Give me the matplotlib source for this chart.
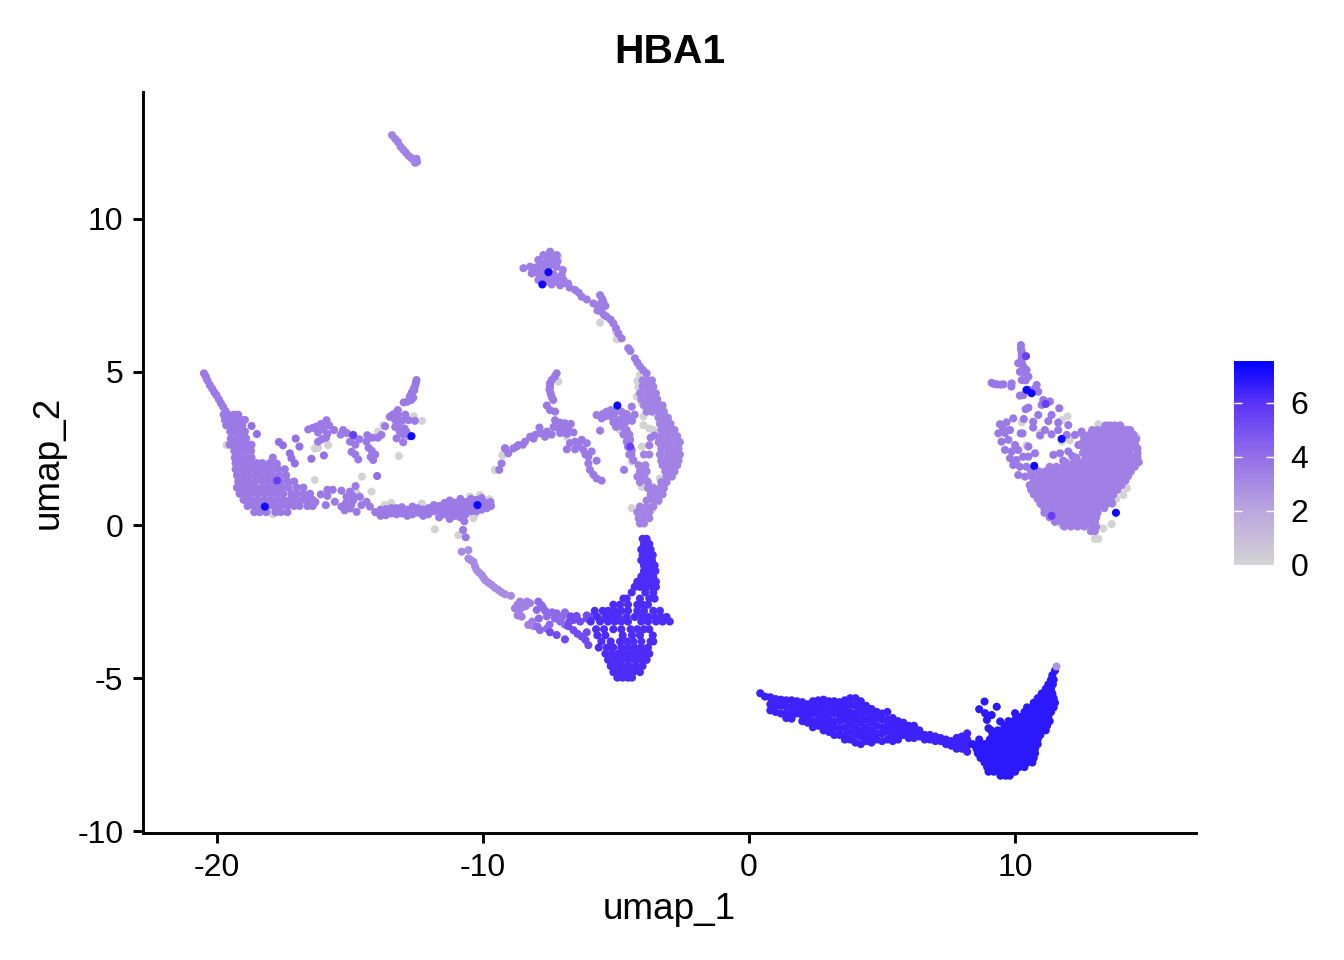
import matplotlib
matplotlib.use("Agg")
import matplotlib.pyplot as plt
from matplotlib.cm import ScalarMappable
from matplotlib.colors import LinearSegmentedColormap, Normalize

plt.rcParams['font.family'] = ['Liberation Sans', 'DejaVu Sans']
plt.rcParams['axes.unicode_minus'] = False

# points, umap_1 / umap_2
top_streak = [(-13.42,12.72),(-13.3,12.6),(-13.2,12.5),(-13.1,12.35),(-13.0,12.25),(-12.9,12.15),(-12.8,12.05),(-12.7,11.98),(-12.6,11.9),(-12.5,11.95),(-12.55,11.82),(-12.48,11.85)]

left_spike = [(-20.49,4.95),(-20.42,4.85),(-20.36,4.72),(-20.27,4.57),(-20.18,4.45),(-20.1,4.33),(-20.02,4.24),(-19.93,4.1),(-19.85,3.97),(-19.77,3.86),(-19.68,3.72)]
left_rows = [
    (3.6,[-19.75,-19.55,-19.35,-19.2]),
    (3.43,[-19.7,-19.5,-19.3,-19.1,-18.95]),
    (3.25,[-19.65,-19.42,-19.25,-19.05]),
    (3.05,[-19.5,-19.3,-19.12,-18.95]),
    (2.82,[-19.48,-19.28,-19.1,-18.9]),
    (2.62,[-19.52,-19.3,-19.08,-18.88,-18.7]),
    (2.42,[-19.35,-19.15,-18.95,-18.72]),
    (2.2,[-19.33,-19.13,-18.9,-18.7]),
    (2.02,[-19.3,-19.1,-18.9,-18.68,-18.5,-18.3,-18.02]),
    (1.82,[-19.3,-19.05,-18.85,-18.6,-18.4,-18.15,-17.95,-17.7,-17.45]),
    (1.62,[-19.25,-19.0,-18.8,-18.55,-18.35,-18.1,-17.9,-17.65,-17.4]),
    (1.42,[-19.2,-19.0,-18.75,-18.55,-18.3,-18.1,-17.85,-17.6,-17.35,-17.1]),
    (1.22,[-19.25,-19.0,-18.8,-18.55,-18.3,-18.05,-17.8,-17.55,-17.3,-17.0,-16.75]),
    (1.02,[-19.15,-18.9,-18.7,-18.45,-18.2,-17.95,-17.7,-17.5,-17.2,-17.0,-16.75,-16.5]),
    (0.82,[-19.0,-18.75,-18.5,-18.25,-18.0,-17.75,-17.5,-17.25,-17.0,-16.8,-16.6,-16.4]),
    (0.62,[-18.85,-18.6,-18.35,-18.1,-17.85,-17.6,-17.35,-17.1,-16.9,-16.6,-16.4]),
    (0.42,[-18.6,-18.4,-18.15,-17.8,-17.6,-17.35]),
]
left_tail = [(-16.3,.75),(-16.1,1.0),(-15.85,1.15),(-15.65,1.15),(-15.85,.95),(-15.91,.65),(-15.57,.76),(-15.32,1.12),(-15.0,1.09),(-14.79,1.27),(-15.13,.92),(-14.88,.8),(-14.63,.92),(-14.38,.76),(-15.32,.6),(-15.0,.54),(-14.75,.43),(-14.57,.65),(-14.25,.6),
    (-15.15,.72),(-14.95,.66),(-15.2,.48),(-14.9,.95),
    (-14.05,.42),(-13.85,.3),(-13.85,.5),(-13.65,.32),(-13.65,.52),(-13.45,.38),(-13.45,.55),(-13.25,.35),(-13.25,.55),(-13.05,.38),(-13.05,.58),(-12.85,.3),(-12.85,.5),(-12.65,.35),(-12.65,.6),(-12.45,.4),(-12.45,.55),(-12.25,.3),(-12.25,.5),(-12.05,.35),(-12.05,.55),(-11.85,.45),(-11.85,.65),(-11.65,.25),(-11.65,.45),(-11.65,.62),(-11.45,.35),(-11.45,.55),(-11.45,.72),(-11.25,.2),(-11.25,.4),(-11.25,.6),(-11.25,.8),(-11.05,.3),(-11.05,.5),(-11.05,.72),(-10.85,.25),(-10.85,.45),(-10.85,.65),(-10.85,.85),(-10.65,.35),(-10.65,.55),(-10.65,.75),(-10.45,.45),(-10.45,.65),(-10.45,.85),(-10.25,.45),(-10.25,.82),(-10.05,.5),(-10.05,.7),(-10.05,.88),(-9.85,.55),(-9.85,.72),(-9.7,.62),(-9.72,.75),
    (-10.75,-.16),(-10.65,-.4),(-10.7,.12)]
left_loose = [(-18.7,3.23),(-18.5,2.97),(-17.67,2.71),(-17.52,2.6),(-17.04,2.82),(-16.9,2.56),(-17.26,2.34),(-17.2,2.18),(-17.07,2.01),(-16.45,2.16),(-15.98,2.27),(-13.98,1.6)]
left_branch = [(-16.57,3.12),(-16.4,3.17),(-16.26,3.21),(-16.08,3.3),(-15.88,3.42),(-15.78,3.25),(-16.0,3.12),(-16.2,3.02),(-15.6,3.1),(-15.85,2.98),(-16.2,2.72),(-16.05,2.8),(-15.9,2.85),(-15.26,3.1),(-15.12,3.0),(-15.35,2.95),(-14.88,2.88),(-14.65,2.8),(-15.0,2.72),(-14.8,2.62),(-14.94,2.39),(-14.8,2.3),(-14.69,2.14),(-14.35,2.93),(-14.15,2.85),(-14.38,2.72),(-14.3,2.52),(-14.18,2.42),(-14.13,2.12),(-14.22,2.22),(-14.05,2.3),(-13.95,2.85),(-13.82,2.94),(-13.68,3.22),(-13.5,3.53),(-13.35,3.62),(-13.2,3.28),(-13.05,3.4),(-13.3,3.2),(-13.13,3.05),(-12.95,3.15),(-12.88,3.05),(-12.78,2.9),(-13.25,2.83),(-13.0,2.95),(-13.0,2.7),(-13.3,3.42),(-13.42,3.58),(-12.92,3.6),(-12.8,3.42),(-12.56,3.4),
    (-13.2,3.75),(-13.2,3.6),(-12.98,4.0),(-12.85,4.02),(-12.7,4.08),(-12.62,4.15),(-12.75,4.2),(-12.68,4.32),(-12.6,4.45),(-12.55,4.55),(-12.52,4.65),(-12.5,4.73),(-12.58,4.4),(-17.75,2.0),(-17.9,2.2)]

# top blob and the long arc running down to the middle
arc_top = [(-7.48,8.92),(-7.73,8.81),(-7.23,8.81),(-7.5,8.75),(-7.92,8.65),(-7.6,8.62),(-7.36,8.65),(-8.48,8.38),(-8.23,8.43),(-8.05,8.4),(-7.8,8.43),(-7.5,8.45),(-7.23,8.43),(-7.0,8.32),(-8.17,8.21),(-7.92,8.21),(-7.67,8.21),(-7.36,8.2),(-7.04,8.16),(-7.92,8.0),(-7.6,7.95),(-7.29,7.95),(-6.98,8.0),(-6.8,7.88),(-7.1,7.82),(-6.54,7.67),(-6.75,7.75),(-6.4,7.58),(-6.29,7.45),(-6.1,7.36),(-5.85,7.23),(-5.66,7.13),(-5.6,7.5),(-5.52,7.38),(-5.48,7.29),(-5.4,7.15),(-5.54,6.96),(-5.45,6.85),(-5.35,6.8),(-5.2,6.7),(-5.1,6.58),(-5.0,6.42),(-4.91,6.25),(-4.79,6.09),(-4.54,5.77),(-4.46,5.68),(-4.29,5.44),(-4.2,5.3),(-4.1,5.17),(-3.98,5.05),(-3.85,4.95),
    (-7.85,8.55),(-7.65,8.42),(-7.4,8.55),(-7.2,8.6),(-7.8,8.1),(-7.5,8.1),(-7.2,8.08),(-8.0,8.3),(-7.42,7.85),(-6.95,7.9),(-5.7,7.0),(-5.6,7.2)]
arc_rows = [
    (4.72,[-4.0,-3.8,-3.65]),(4.52,[-4.0,-3.8,-3.6]),(4.3,[-4.1,-3.85,-3.65,-3.5]),(4.1,[-4.05,-3.85,-3.65,-3.45]),
    (3.9,[-3.95,-3.75,-3.55,-3.35,-3.25]),(3.7,[-3.85,-3.65,-3.4,-3.2]),(3.5,[-3.4,-3.2,-3.05]),(3.3,[-3.35,-3.15,-2.95]),
    (3.1,[-3.3,-3.1,-2.9,-2.8]),(2.9,[-3.3,-3.05,-2.85,-2.7]),(2.7,[-3.4,-3.2,-3.0,-2.75,-2.6]),(2.5,[-3.3,-3.05,-2.85,-2.65]),
    (2.3,[-3.95,-3.75,-3.35,-3.1,-2.9,-2.7,-2.6]),(2.1,[-3.3,-3.05,-2.85,-2.65]),(1.95,[-4.15,-3.9,-3.25,-3.0,-2.8,-2.7]),
    (1.75,[-4.1,-3.85,-3.15,-2.95,-2.8]),(1.58,[-4.2,-3.95,-3.1,-2.9]),(1.4,[-4.1,-3.8,-3.3,-3.1]),(1.2,[-3.8,-3.6,-3.35,-3.2]),
    (1.0,[-3.7,-3.5,-3.25]),(.8,[-3.85,-3.6,-3.4]),(.6,[-4.1,-3.85,-3.6]),(.42,[-4.2,-3.95,-3.75]),(.22,[-4.15,-3.95,-3.75]),(.05,[-4.1,-3.95]),
]
inner_lobe = [(-5.73,3.59),(-5.54,3.48),(-5.35,3.7),(-5.2,3.55),(-5.4,3.55),(-5.05,3.65),(-4.8,3.7),(-4.6,3.62),(-4.41,3.86),(-4.3,3.6),(-4.55,3.48),(-4.75,3.5),(-4.95,3.42),(-5.1,3.35),(-4.85,3.32),(-5.0,3.2),(-4.6,3.1),(-4.72,2.95),(-4.5,2.95),(-4.47,2.78),(-4.6,2.72),(-4.41,2.45),(-4.5,2.3),(-4.35,2.12),(-5.6,3.08),(-4.7,1.8),(-3.75,2.6),(-3.7,2.85),(-3.55,2.92),
    (-5.5,3.62),(-5.2,3.75),(-4.95,3.75),(-4.65,3.35),(-4.4,3.4),(-4.75,3.2),(-4.55,2.55),(-4.42,2.3)]
small_branch = [(-7.23,4.95),(-7.3,4.85),(-7.42,4.73),(-7.48,4.62),(-7.48,4.52),(-7.5,4.42),(-7.46,4.3),(-7.42,4.18),(-7.36,4.08),(-7.6,3.9),(-7.48,3.75),(-7.29,3.7),
    (-7.29,3.42),(-7.1,3.34),(-6.92,3.32),(-6.7,3.3),(-7.35,3.2),(-7.16,3.15),(-6.98,3.15),(-6.8,3.1),(-6.6,3.02),(-7.42,2.95),(-7.1,3.0),(-6.85,2.98),
    (-9.17,2.5),(-9.05,2.34),(-8.86,2.5),(-8.67,2.61),(-8.42,2.72),(-8.23,2.88),(-8.04,2.94),(-7.86,3.0),(-7.67,2.88),(-7.6,3.05),(-7.88,3.18),(-8.5,2.62),(-8.75,2.55),(-8.1,2.82),
    (-9.3,2.01),(-9.39,1.8),(-9.17,2.5),
    (-6.73,2.67),(-6.54,2.72),(-6.29,2.78),(-6.1,2.67),(-6.85,2.47),(-6.54,2.47),(-6.23,2.45),(-6.04,2.23),(-5.92,2.4),(-5.73,2.1),(-6.04,2.01),(-5.98,1.8),(-5.85,1.64),(-5.73,1.52),(-5.54,1.45),(-6.15,2.3),(-6.4,2.58)]

# lower arc, purple turning blue towards the right
low_a = [(-10.8,-.87),(-10.55,-.82),(-10.55,-1.09),(-10.45,-1.15),(-10.36,-1.2),(-10.3,-1.35),(-10.24,-1.47),(-10.15,-1.55),(-10.05,-1.63),(-9.98,-1.72),(-9.92,-1.8),(-9.8,-1.88),(-9.67,-1.96),(-9.55,-2.05),(-9.42,-2.12),(-9.3,-2.2),(-9.17,-2.26),(-8.95,-2.31)]
low_b = [(-8.61,-2.5),(-8.7,-2.6),(-8.8,-2.72),(-8.65,-2.85),(-8.55,-2.99),(-8.4,-2.65),(-8.23,-2.55),(-8.3,-3.26),(-8.15,-3.15),(-8.55,-2.7),(-8.35,-2.5),(-8.7,-2.95),(-8.1,-3.3)]
low_c = [(-7.92,-2.5),(-7.98,-2.77),(-7.75,-2.7),(-7.66,-2.8),(-7.6,-2.98),(-7.9,-3.05),(-7.86,-3.43),(-7.6,-3.38),(-7.5,-3.25),(-7.23,-2.88),(-7.3,-3.05),(-7.0,-2.98),(-6.92,-2.85),(-6.92,-3.25),(-7.8,-2.62),(-7.4,-2.85),(-7.1,-3.15),(-7.95,-3.32)]
low_d = [(-7.48,-3.5),(-7.23,-3.59),(-6.92,-3.73),(-6.8,-3.3),(-6.6,-3.43),(-6.7,-2.98),(-6.48,-2.97),(-6.35,-3.15),(-6.29,-3.64),(-6.45,-3.55),(-6.1,-3.5),(-6.15,-3.75),(-6.04,-3.92),(-6.1,-3.05),(-6.1,-2.95),(-5.95,-3.0),(-6.6,-3.1),(-6.75,-3.15)]
low_rows = [
    (-.45,[-4.0,-3.85]),(-.62,[-3.95,-3.75]),(-.8,[-4.05,-3.85,-3.7]),(-.98,[-4.0,-3.8,-3.62]),(-1.15,[-4.05,-3.85,-3.65]),
    (-1.32,[-3.95,-3.75,-3.55]),(-1.5,[-3.95,-3.7,-3.52]),(-1.68,[-4.05,-3.8,-3.6]),(-1.85,[-4.2,-3.95,-3.7,-3.5]),
    (-2.02,[-4.3,-4.1,-3.85,-3.65,-3.5]),(-2.2,[-4.41,-3.9,-3.6]),(-2.4,[-4.72,-4.6,-4.1,-3.75,-3.55]),
    (-2.6,[-5.1,-4.85,-4.55,-4.2,-4.0,-3.8]),(-2.8,[-5.8,-5.5,-5.3,-5.05,-4.8,-4.55,-4.2,-3.95,-3.6,-3.35]),
    (-3.0,[-5.7,-5.4,-5.15,-4.9,-4.6,-4.3,-4.05,-3.8,-3.55,-3.3,-3.1]),(-3.15,[-5.95,-5.6,-5.3,-5.05,-4.8,-4.55,-4.05,-3.8,-3.5,-3.25,-2.98]),
    (-3.4,[-5.75,-5.45,-5.1,-4.8,-4.45,-4.2,-3.95,-3.75]),(-3.6,[-5.7,-5.4,-4.75,-4.4,-4.1,-3.62]),
    (-3.8,[-5.55,-5.2,-4.85,-4.6,-4.35,-4.05,-3.7,-3.6]),(-4.0,[-5.65,-5.35,-5.1,-4.8,-4.55,-4.3,-4.05,-3.8]),
    (-4.2,[-5.4,-5.15,-4.9,-4.65,-4.4,-4.15,-3.9,-3.75]),(-4.4,[-5.3,-5.05,-4.8,-4.55,-4.3,-4.05,-3.85]),
    (-4.6,[-5.2,-4.95,-4.75,-4.5,-4.25,-4.0]),(-4.8,[-5.1,-4.85,-4.6,-4.35,-4.1]),(-4.98,[-4.95,-4.75,-4.55,-4.4]),
]

# blue band on the right, given column by column
band_cols = [
    (.42,[-5.49]),(.6,[-5.6]),(.8,[-5.62,-5.85,-6.05]),(1.0,[-5.68,-5.88,-6.1]),(1.2,[-5.7,-5.9,-6.15]),(1.4,[-5.72,-5.93,-6.15,-6.3]),
    (1.6,[-5.72,-5.95,-6.15,-6.32]),(1.8,[-5.75,-5.95,-6.15]),(2.0,[-5.78,-6.0,-6.2,-6.4]),(2.2,[-5.85,-6.05,-6.25,-6.45]),
    (2.4,[-5.75,-5.95,-6.15,-6.4,-6.6]),(2.6,[-5.72,-5.92,-6.12,-6.35,-6.55]),(2.8,[-5.7,-5.9,-6.1,-6.3,-6.5,-6.7]),
    (3.0,[-5.75,-5.95,-6.15,-6.35,-6.55,-6.75]),(3.2,[-5.75,-5.95,-6.15,-6.4,-6.6,-6.85]),(3.4,[-5.78,-6.0,-6.2,-6.4,-6.65,-6.85]),
    (3.6,[-5.72,-5.95,-6.15,-6.35,-6.6,-6.85,-7.0]),(3.8,[-5.65,-5.85,-6.1,-6.3,-6.5,-6.75,-7.0]),(4.0,[-5.65,-5.9,-6.15,-6.35,-6.6,-6.85,-7.1]),
    (4.2,[-5.75,-6.0,-6.2,-6.45,-6.7,-6.9,-7.15]),(4.4,[-5.9,-6.1,-6.35,-6.6,-6.85,-7.05]),(4.6,[-6.0,-6.25,-6.45,-6.7,-6.9,-7.1]),
    (4.8,[-6.1,-6.3,-6.55,-6.8,-7.0]),(5.0,[-6.15,-6.35,-6.6,-6.8,-7.05]),(5.2,[-6.1,-6.35,-6.55,-6.75,-7.0]),(5.4,[-6.3,-6.5,-6.7,-6.9,-7.05]),
    (5.6,[-6.4,-6.6,-6.8,-7.0]),(5.8,[-6.45,-6.65,-6.85]),(6.0,[-6.55,-6.75,-6.95]),(6.2,[-6.55,-6.75,-6.95]),(6.4,[-6.7,-6.9]),
    (6.6,[-6.85,-7.0]),(6.8,[-6.85,-7.0]),(7.0,[-6.9,-7.05]),(7.2,[-6.95,-7.05]),(7.4,[-7.0,-7.15]),(7.6,[-7.05,-7.2]),
    (7.8,[-6.95,-7.15,-7.3]),(8.0,[-6.9,-7.1,-7.3]),(8.2,[-6.8,-7.0,-7.2,-7.4]),
]
wedge_rows = [
    (-4.75,[11.5]),(-4.9,[11.4]),(-5.05,[11.35,11.45]),(-5.2,[11.25,11.42]),(-5.35,[11.15,11.35]),(-5.5,[11.0,11.2,11.4]),(-5.65,[10.85,11.05,11.25,11.45]),
    (-5.8,[10.7,10.9,11.1,11.3,11.5]),(-5.95,[10.45,10.65,10.85,11.05,11.25,11.45]),(-6.1,[10.35,10.55,10.75,10.95,11.15,11.35]),
    (-6.25,[10.05,10.25,10.45,10.65,10.85,11.05,11.25]),(-6.4,[9.75,9.95,10.15,10.35,10.55,10.75,10.95,11.15,11.3]),
    (-6.55,[9.6,9.8,10.0,10.2,10.4,10.6,10.8,11.0,11.2]),(-6.7,[9.1,9.35,9.55,9.75,9.95,10.15,10.35,10.55,10.75,10.95,11.15]),
    (-6.85,[9.15,9.35,9.55,9.75,9.95,10.15,10.35,10.55,10.75,10.95]),(-7.0,[8.65,9.05,9.25,9.45,9.65,9.85,10.05,10.25,10.45,10.65,10.85]),
    (-7.15,[8.4,8.6,8.85,9.05,9.25,9.45,9.65,9.85,10.05,10.25,10.45,10.65,10.85]),(-7.3,[8.55,8.75,8.95,9.15,9.35,9.55,9.75,9.95,10.15,10.35,10.55,10.75]),
    (-7.45,[8.6,8.8,9.0,9.2,9.4,9.6,9.8,10.0,10.2,10.4,10.6,10.75]),(-7.6,[8.7,8.9,9.1,9.3,9.5,9.7,9.9,10.1,10.3,10.5,10.7]),
    (-7.75,[8.85,9.05,9.25,9.45,9.65,9.85,10.05,10.25,10.45,10.65]),(-7.9,[8.95,9.15,9.35,9.55,9.75,9.95,10.15,10.35]),
    (-8.05,[9.0,9.2,9.4,9.6,9.8,10.0]),(-8.18,[9.45,9.65,9.8]),
]
wedge_loose = [(8.85,-5.76),(8.65,-6.01),(9.31,-5.93),(8.87,-6.14),(9.12,-6.2),(8.94,-6.36),(10.0,-6.14),(9.44,-6.41),(9.0,-6.63)]
wedge_tip = [(11.55,-4.6)]

# heart shaped cluster
heart_tip = [(10.22,5.87),(10.22,5.75),(10.25,5.66),(10.25,5.55),(10.25,5.44),(10.12,5.28),(10.25,5.3),(10.31,5.17),(10.43,5.06),(10.18,5.0),(10.32,4.98),(10.5,4.84),(10.25,4.73),(10.4,4.72),(9.12,4.64),(9.22,4.6),(9.31,4.59),(9.45,4.58),(9.56,4.59),(9.87,4.62),(9.86,4.52),(10.31,4.24),(10.18,4.22),(10.5,4.41),(10.81,4.57),(10.87,4.35),(10.75,4.45),(11.06,4.08),(11.31,4.03),(11.0,3.92),(11.66,3.81),(10.5,3.83),(10.4,3.78),(11.37,3.59),(11.25,3.39),(10.87,3.59),(10.68,3.37),(10.33,3.46),(10.68,3.18),(11.62,3.34),(12.0,3.26),(11.12,3.1),(11.62,3.1),(11.37,2.96),(10.94,2.92),(11.94,2.94),(10.21,2.99),(10.28,2.99),(10.5,2.56),(10.75,2.34),(11.44,2.29),(11.69,2.34),(12.38,2.61),(12.25,2.94),(12.5,3.05),(11.81,2.1),(12.0,2.4),(12.15,2.25)]
heart_left = [(9.43,3.29),(9.68,3.35),(9.93,3.48),(9.55,3.15),(9.37,2.99),(9.62,3.0),(9.81,3.1),(9.49,2.72),(9.75,2.78),(10.0,2.61),(9.62,2.45),(9.87,2.4),(10.12,2.45),(9.81,2.18),(10.05,2.12),(10.3,2.23),(10.5,2.23),(9.93,1.96),(10.18,1.9),(10.43,1.9),(10.12,1.63),(10.37,1.58)]
heart_rows = [
    (3.25,[13.4,13.55,13.75,13.95]),(3.1,[12.9,13.1,13.3,13.55,13.8,14.0,14.2,14.32]),(2.95,[12.55,12.8,13.05,13.3,13.55,13.8,14.05,14.3,14.45]),
    (2.8,[12.6,12.85,13.1,13.35,13.6,13.85,14.1,14.35,14.55]),(2.65,[12.5,12.75,13.0,13.25,13.5,13.75,14.0,14.25,14.5]),
    (2.5,[12.6,12.85,13.1,13.35,13.6,13.85,14.1,14.35,14.6]),(2.35,[12.55,12.8,13.05,13.3,13.55,13.8,14.05,14.3,14.6]),
    (2.2,[12.3,12.65,12.9,13.15,13.4,13.65,13.9,14.15,14.4,14.6]),(2.05,[11.9,12.2,12.5,12.75,13.0,13.25,13.5,13.75,14.0,14.25,14.5,14.65]),
    (1.9,[11.3,11.55,11.8,12.05,12.3,12.55,12.8,13.05,13.3,13.55,13.8,14.05,14.3,14.5]),
    (1.75,[10.6,10.9,11.15,11.4,11.65,11.9,12.15,12.4,12.65,12.9,13.15,13.4,13.65,13.9,14.15,14.35]),
    (1.6,[10.6,10.85,11.1,11.35,11.6,11.85,12.1,12.35,12.6,12.85,13.1,13.35,13.6,13.85,14.1,14.25]),
    (1.45,[10.7,10.95,11.2,11.45,11.7,11.95,12.2,12.45,12.7,12.95,13.2,13.45,13.7,13.95,14.15]),
    (1.3,[10.55,10.8,11.05,11.3,11.55,11.8,12.05,12.3,12.55,12.8,13.05,13.3,13.55,13.8,14.0]),
    (1.15,[10.6,10.85,11.1,11.35,11.6,11.85,12.1,12.35,12.6,12.85,13.1,13.35,13.6,13.85]),
    (1.0,[10.7,10.95,11.2,11.45,11.7,11.95,12.2,12.45,12.7,12.95,13.2,13.45,13.7]),
    (.85,[10.85,11.1,11.35,11.6,11.85,12.1,12.35,12.6,12.85,13.1,13.35,13.6]),
    (.7,[10.95,11.2,11.45,11.7,11.95,12.2,12.45,12.7,12.95,13.2,13.45,13.65]),
    (.55,[11.1,11.35,11.6,11.85,12.1,12.35,12.6,12.85,13.1,13.35]),
    (.4,[11.1,11.35,11.6,11.85,12.1,12.35,12.6,12.85,13.1]),
    (.25,[11.3,11.55,11.8,12.05,12.3,12.55,12.8,13.05]),
    (.1,[11.5,11.75,12.0,12.25,12.5,12.75,13.0]),
    (-.05,[11.85,12.1,12.35,12.6,12.9,13.05]),(-.2,[12.85,13.0]),
]

gray_points = [(-19.64,2.61),(-16.32,2.5),(-16.2,2.52),(-15.82,2.61),(-13.16,2.25),(-14.55,1.58),(-12.29,3.4),(-12.6,3.55),(-13.75,3.26),(-13.95,3.05),(-16.32,1.47),(-14.19,1.09),(-11.81,-.14),(-10.93,-.33),(-9.27,2.28),(-9.55,1.8),(-18.05,.48),(-17.9,.35),(-14.75,1.05),(-13.45,.72),(-13.7,.65),(-12.3,.7),(-11.1,.75),
    (-10.49,.93),(-10.11,.98),(-9.76,.84),(-10.36,.22),(-10.3,.35),(-5.6,6.6),(-4.97,6.06),(-4.1,4.9),(-4.16,4.5),(-4.22,4.19),(-4.03,3.97),(-3.53,3.65),(-3.97,3.26),(-3.97,3.54),(-3.6,3.1),(-4.03,2.56),(-2.66,2.23),(-2.72,2.35),(-3.35,1.52),(-3.6,1.25),(-4.03,1.25),(-3.41,.76),(-4.41,.55),(-3.66,.49),(-4.66,3.0),(-4.85,3.1),(-4.41,2.07),(-9.55,1.8),(-9.26,2.29),(-7.17,4.68),(-6.85,2.88),(-7.6,8.0),(-7.17,8.76),(-5.0,6.3),(-4.2,4.7),(-3.75,3.15),(-3.85,1.5),
    (10.25,3.35),(10.43,2.6),(10.94,3.0),(11.75,3.42),(11.97,3.54),(11.75,2.72),(12.06,2.77),(14.07,.98),(14.2,1.2),(13.63,.03),(13.32,-.11),(13.13,-.45),(13.0,-.45),(11.75,.0),(11.0,.65),(14.57,2.88),(14.2,3.1),(13.13,3.29),(14.07,3.15),(13.8,.85),(12.3,2.05)]
spot_points = [(-7.54,8.25),(-7.77,7.85),(-10.21,.65),(-4.95,3.9),(-18.2,.6),(-12.69,2.9),(11.75,2.81),(10.43,4.41),(10.62,4.3),(10.72,1.93),(13.79,.4)]
mid_spots = [(-17.74,1.45),(-4.47,2.56),(-14.88,2.94),(10.41,5.51),(11.37,.3),(11.15,3.95)]

# (points, expression) pairs, drawn in this order
point_groups = [
    (gray_points, 0.0),
    (top_streak, 3.3), (left_spike, 3.6), (left_rows, 3.6), (left_tail, 3.6), (left_loose, 4.0), (left_branch, 3.6),
    (arc_top, 3.5), (arc_rows, 3.3), (inner_lobe, 3.5), (small_branch, 3.6),
    (low_a, 3.0), (low_b, 3.4), (low_c, 4.2), (low_d, 5.2), (low_rows, 6.2),
    (band_cols, 6.5), (wedge_rows, 6.8), (wedge_loose, 6.8), (wedge_tip, 2.6),
    (heart_tip, 3.7), (heart_left, 3.6), (heart_rows, 3.4),
    (mid_spots, 5.6), (spot_points, 7.3),
]
columnwise = [band_cols]

title = "HBA1"
x_ticks = [-20, -10, 0, 10]
y_ticks = [-10, -5, 0, 5, 10]
bar_ticks = [0, 2, 4, 6]
bar_max = 7.55


def flatten(group):
    # rows come as (y, [x, x, ...]), columns as (x, [y, y, ...]), the rest as (x, y)
    xs, ys = [], []
    for a, b in group:
        if isinstance(b, list):
            for v in b:
                if any(group is c for c in columnwise):
                    xs.append(a); ys.append(v)
                else:
                    xs.append(v); ys.append(a)
        else:
            xs.append(a); ys.append(b)
    return xs, ys


W, H = 1344, 960
fig = plt.figure(figsize=(W / 200, H / 200), dpi=200)
ax = fig.add_axes([143 / W, 1 - 833 / H, (1196 - 143) / W, (833 - 92) / H])

cmap = LinearSegmentedColormap.from_list(
    "lg_blue",
    [(0, "#D3D3D3"), (2 / bar_max, "#BBA6DF"), (4 / bar_max, "#9470E8"), (6 / bar_max, "#5B33F6"), (1, "#0000FF")],
)
norm = Normalize(0, bar_max)

for group, value in point_groups:
    xs, ys = flatten(group)
    ax.scatter(xs, ys, c=[value] * len(xs), cmap=cmap, norm=norm, s=8.5, linewidths=0, zorder=3)

ax.set_xlim(-22.78, 16.8)
ax.set_ylim(-10.05, 14.13)
ax.set_xticks(x_ticks)
ax.set_yticks(y_ticks)
for s in ["top", "right"]:
    ax.spines[s].set_visible(False)
for s in ["left", "bottom"]:
    ax.spines[s].set_linewidth(1.05)
ax.tick_params(length=3.6, width=1.05, labelsize=11.5, pad=3.5, colors="black")
ax.set_xlabel("umap_1", fontsize=13.3, labelpad=3.5)
ax.set_ylabel("umap_2", fontsize=13.3, labelpad=4)
ax.set_title(title, fontsize=14.7, fontweight="bold", pad=10.5)

cax = fig.add_axes([1234 / W, 1 - 565 / H, 40 / W, 204 / H])
cbar = fig.colorbar(ScalarMappable(norm=norm, cmap=cmap), cax=cax)
cbar.set_ticks(bar_ticks)
cbar.outline.set_visible(False)
cax.tick_params(axis="y", direction="in", left=True, right=True, length=2.9, width=0.5, color="white", labelsize=11.5, labelcolor="black", pad=6)

fig.savefig("out.png", dpi=200)
